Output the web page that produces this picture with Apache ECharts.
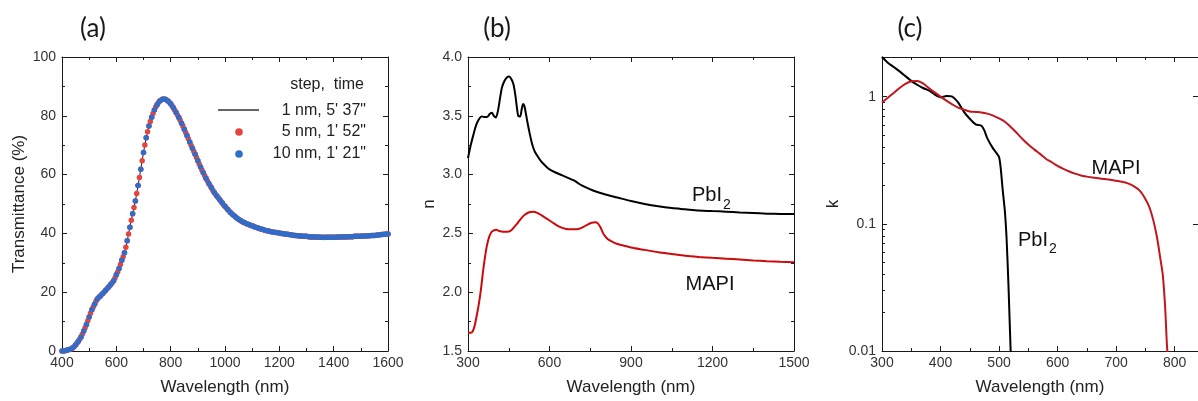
<!DOCTYPE html>
<html><head><meta charset="utf-8">
<script src="https://cdn.jsdelivr.net/npm/echarts@6/dist/echarts.min.js"></script>
<style>html,body{margin:0;padding:0;background:#fff}#c{width:1198px;height:401px}</style>
</head><body><div id="c"></div>
<script>
// ---------- Panel (a): Transmittance (%) vs wavelength, 400-1600 nm ----------
const aStart = 400;
// 10 nm step measurement (400, 410, ..., 1600)
const aT10nm = [
 0.0,0.1,0.3,0.6,1.1,2.0,3.3,4.8,6.8,9.0,
 11.6,14.0,15.9,17.7,18.6,19.6,20.6,21.6,22.7,23.9,
 25.9,28.1,30.9,33.4,37.5,42.1,46.7,51.0,56.3,61.8,
 67.5,72.5,76.5,79.5,82.0,83.8,85.0,85.6,85.6,85.0,
 84.1,82.7,81.1,79.4,77.5,75.4,73.3,71.1,69.0,66.9,
 64.7,62.6,60.6,58.8,57.1,55.5,54.0,52.7,51.5,50.3,
 49.2,48.1,47.1,46.3,45.5,44.8,44.2,43.7,43.3,42.9,
 42.6,42.2,41.9,41.6,41.3,41.0,40.8,40.6,40.4,40.3,
 40.1,40.0,39.8,39.7,39.5,39.4,39.3,39.2,39.1,39.0,
 39.0,38.9,38.8,38.8,38.8,38.7,38.7,38.7,38.7,38.7,
 38.7,38.7,38.8,38.8,38.8,38.9,38.9,38.9,39.0,39.0,
 39.0,39.1,39.1,39.2,39.3,39.3,39.4,39.5,39.6,39.7,
 39.8
];
// 5 nm step measurement (400, 405, ..., 1600)
const aT5nm = [
 0.0,0.0,0.1,0.2,0.3,0.4,0.6,0.8,1.1,1.5,
 2.0,2.6,3.3,4.0,4.8,5.8,6.8,7.9,9.0,10.3,
 11.6,12.8,14.0,15.0,15.9,16.9,17.7,18.2,18.6,19.1,
 19.6,20.1,20.6,21.1,21.6,22.1,22.7,23.3,23.9,24.8,
 25.9,26.9,28.1,29.4,30.9,32.1,33.4,35.3,37.5,39.8,
 42.1,44.5,46.7,48.8,51.0,53.6,56.3,59.0,61.8,64.7,
 67.5,70.1,72.5,74.6,76.5,78.1,79.5,80.8,82.0,83.0,
 83.8,84.5,85.0,85.4,85.6,85.7,85.6,85.4,85.0,84.6,
 84.1,83.4,82.7,81.9,81.1,80.3,79.4,78.5,77.5,76.5,
 75.4,74.4,73.3,72.2,71.1,70.0,69.0,67.9,66.9,65.8,
 64.7,63.6,62.6,61.6,60.6,59.7,58.8,57.9,57.1,56.3,
 55.5,54.7,54.0,53.3,52.7,52.1,51.5,50.9,50.3,49.7,
 49.2,48.6,48.1,47.6,47.1,46.7,46.3,45.9,45.5,45.1,
 44.8,44.5,44.2,43.9,43.7,43.5,43.3,43.1,42.9,42.7,
 42.6,42.4,42.2,42.0,41.9,41.7,41.6,41.4,41.3,41.1,
 41.0,40.9,40.8,40.7,40.6,40.5,40.4,40.3,40.3,40.2,
 40.1,40.0,40.0,39.9,39.8,39.7,39.7,39.6,39.5,39.5,
 39.4,39.3,39.3,39.2,39.2,39.1,39.1,39.0,39.0,39.0,
 39.0,38.9,38.9,38.8,38.8,38.8,38.8,38.7,38.8,38.7,
 38.7,38.7,38.7,38.6,38.7,38.7,38.7,38.7,38.7,38.7,
 38.7,38.7,38.7,38.8,38.8,38.8,38.8,38.8,38.8,38.9,
 38.8,38.9,38.9,38.9,38.9,39.0,39.0,39.0,39.0,39.0,
 39.0,39.1,39.1,39.1,39.1,39.2,39.2,39.2,39.3,39.3,
 39.3,39.4,39.4,39.5,39.5,39.6,39.6,39.7,39.7,39.8,
 39.8
];
const aLegendHeader = 'step,  time';
const aLegendLabels = ['1 nm, 5\' 37"', '5 nm, 1\' 52"', '10 nm, 1\' 21"'];

// ---------- Panel (b): refractive index n ----------
const bWlPbI2 = [300,310,320,330,340,350,360,370,380,388,395,402,410,418,425,435,445,452,460,467,474,480,485,492,498,503,508,513,520,528,536,545,555,570,585,600,620,645,670,690,710,730,760,800,850,900,950,1000,1050,1100,1150,1200,1250,1300,1350,1400,1450,1500];
const bNPbI2  = [3.14,3.25,3.34,3.42,3.47,3.495,3.49,3.49,3.515,3.525,3.50,3.485,3.54,3.65,3.74,3.80,3.83,3.835,3.81,3.77,3.68,3.57,3.50,3.495,3.56,3.60,3.58,3.52,3.43,3.34,3.26,3.20,3.16,3.11,3.075,3.045,3.02,2.995,2.97,2.95,2.92,2.895,2.865,2.835,2.805,2.775,2.75,2.73,2.715,2.705,2.695,2.69,2.685,2.678,2.673,2.668,2.665,2.664];
const bWlMAPI = [300,310,318,325,332,340,348,355,362,370,378,386,395,405,415,430,445,455,465,480,495,510,525,540,555,570,590,610,630,650,670,690,710,725,740,755,768,778,788,800,815,830,850,875,900,950,1000,1050,1100,1150,1200,1250,1300,1350,1400,1450,1500];
const bNMAPI  = [1.655,1.655,1.67,1.72,1.80,1.90,2.03,2.17,2.29,2.40,2.47,2.51,2.525,2.53,2.52,2.515,2.515,2.52,2.54,2.58,2.625,2.66,2.68,2.685,2.675,2.655,2.625,2.595,2.565,2.545,2.535,2.535,2.54,2.555,2.575,2.59,2.595,2.585,2.55,2.49,2.45,2.43,2.41,2.395,2.38,2.36,2.34,2.325,2.31,2.30,2.292,2.285,2.278,2.27,2.264,2.259,2.255];

// ---------- Panel (c): extinction coefficient k (log) ----------
const cWlPbI2 = [300,310,320,330,340,350,360,370,380,390,400,410,420,430,440,450,460,470,475,480,490,500,503,506,510,513,516,518,520];
const cKPbI2  = [2.05,1.85,1.71,1.58,1.45,1.33,1.24,1.17,1.12,1.04,0.99,1.01,1.00,0.90,0.76,0.67,0.605,0.59,0.54,0.47,0.39,0.335,0.27,0.19,0.125,0.075,0.034,0.018,0.0095];
const cWlMAPI = [300,310,320,330,340,350,360,370,380,390,400,410,420,430,440,450,460,470,480,490,500,510,520,530,540,550,560,570,580,590,600,610,620,630,640,650,660,670,680,690,700,710,720,730,740,750,757,764,770,776,780,784,787,790];
const cKMAPI  = [0.90,0.98,1.07,1.17,1.26,1.32,1.33,1.27,1.17,1.08,1.00,0.93,0.87,0.82,0.79,0.765,0.758,0.752,0.735,0.71,0.675,0.635,0.578,0.52,0.465,0.42,0.385,0.355,0.325,0.305,0.285,0.27,0.258,0.248,0.24,0.235,0.231,0.228,0.225,0.222,0.218,0.214,0.208,0.198,0.183,0.157,0.135,0.105,0.078,0.052,0.039,0.0215,0.011,0.0075];

const panelTitles = ['(a)', '(b)', '(c)'];
const xName = 'Wavelength (nm)';
const yNames = ['Transmittance (%)', 'n', 'k'];
const curveLabels = ['PbI', 'MAPI'];

// ---------- helpers ----------
const FONT = '"Liberation Sans", Arial, sans-serif';
const AX = '#1a1a1a';
const stepPairs = (start, step, ys) => ys.map((y, i) => [start + i * step, y]);
const pairs = (xs, ys) => xs.map((x, i) => [x, ys[i]]);
const plain = v => String(v);

function axisBase(gridIndex, min, max, interval, type) {
  return {
    type: type || 'value', gridIndex, min, max,
    interval: type === 'log' ? undefined : interval,
    axisLine: { show: true, onZero: false, lineStyle: { color: AX, width: 1 } },
    axisTick: { show: true, inside: true, length: 5, lineStyle: { color: AX, width: 1 } },
    minorTick: { show: true, splitNumber: 2, length: 3, lineStyle: { color: AX, width: 1 } },
    splitLine: { show: false }, minorSplitLine: { show: false }
  };
}
function xBottom(g, min, max, interval, extra) {
  return Object.assign(axisBase(g, min, max, interval), {
    position: 'bottom', name: xName, nameLocation: 'middle', nameGap: 28,
    nameTextStyle: { fontFamily: FONT, fontSize: 17, color: '#222' },
    axisLabel: { fontFamily: FONT, fontSize: 14, color: '#333', margin: 5, showMaxLabel: !extra, formatter: plain }
  });
}
function xTop(g, min, max, interval) {
  return Object.assign(axisBase(g, min, max, interval), { position: 'top', axisLabel: { show: false } });
}
function yLeft(g, min, max, interval, name, gap, type, fmt) {
  const a = Object.assign(axisBase(g, min, max, interval, type), {
    position: 'left', name, nameLocation: 'middle', nameGap: gap,
    nameTextStyle: { fontFamily: FONT, fontSize: 17, color: '#222' },
    axisLabel: { fontFamily: FONT, fontSize: 14, color: '#333', margin: 6, showMaxLabel: type !== 'log', formatter: fmt || plain }
  });
  if (type === 'log') { a.logBase = 10; a.minorTick.splitNumber = 9; }
  return a;
}
function yRight(g, min, max, interval, type) {
  const a = Object.assign(axisBase(g, min, max, interval, type), { position: 'right', axisLabel: { show: false } });
  if (type === 'log') { a.logBase = 10; a.minorTick.show = false; }
  return a;
}

const chart = echarts.init(document.getElementById('c'), null, { renderer: 'canvas' });
const RED_A = '#e5443d', BLUE_A = '#2f6dcb', RED_B = '#cc0a0a', RED_C = '#c2161e';
const TITLE_FONT = 'Lato, "Open Sans", sans-serif';

function gtext(x, y, text, size, align, family, fill) {
  return {
    type: 'text', x, y, silent: true,
    style: { text, fontFamily: family || FONT, fontSize: size, fill: fill || '#111', align: align || 'center', verticalAlign: 'middle' }
  };
}

chart.setOption({
  animation: false,
  backgroundColor: '#fff',
  grid: [
    { left: 62, top: 57, width: 326, height: 297 },
    { left: 468, top: 57, width: 326, height: 297 },
    { left: 882, top: 57, width: 319, height: 297 }
  ],
  xAxis: [
    xBottom(0, 400, 1600, 200), xTop(0, 400, 1600, 200),
    xBottom(1, 300, 1500, 300), xTop(1, 300, 1500, 300),
    xBottom(2, 300, 840, 100, true), xTop(2, 300, 840, 100)
  ],
  yAxis: [
    yLeft(0, 0, 100, 20, yNames[0], 34), yRight(0, 0, 100, 20),
    yLeft(1, 1.5, 4.0, 0.5, yNames[1], 30, 'value', v => v.toFixed(1)), yRight(1, 1.5, 4.0, 0.5),
    yLeft(2, 0.01, 2.05, null, yNames[2], 40, 'log'), yRight(2, 0.01, 2.05, null, 'log')
  ],
  series: [
    { name: aLegendLabels[0], type: 'line', xAxisIndex: 0, yAxisIndex: 0, data: stepPairs(aStart, 5, aT5nm),
      showSymbol: false, lineStyle: { color: '#222', width: 1 }, z: 1 },
    { name: aLegendLabels[1], type: 'scatter', xAxisIndex: 0, yAxisIndex: 0, data: stepPairs(aStart, 5, aT5nm),
      symbolSize: 5.5, itemStyle: { color: RED_A, opacity: 1 }, z: 2 },
    { name: aLegendLabels[2], type: 'scatter', xAxisIndex: 0, yAxisIndex: 0, data: stepPairs(aStart, 10, aT10nm),
      symbolSize: 5.5, itemStyle: { color: BLUE_A, opacity: 1 }, z: 3 },
    { name: 'PbI2 n', type: 'line', xAxisIndex: 2, yAxisIndex: 2, data: pairs(bWlPbI2, bNPbI2),
      showSymbol: false, smooth: 0.3, lineStyle: { color: '#000', width: 2 } },
    { name: 'MAPI n', type: 'line', xAxisIndex: 2, yAxisIndex: 2, data: pairs(bWlMAPI, bNMAPI),
      showSymbol: false, smooth: 0.3, lineStyle: { color: RED_B, width: 2 } },
    { name: 'PbI2 k', type: 'line', xAxisIndex: 4, yAxisIndex: 4, data: pairs(cWlPbI2, cKPbI2),
      showSymbol: false, smooth: 0.2, lineStyle: { color: '#000', width: 2 } },
    { name: 'MAPI k', type: 'line', xAxisIndex: 4, yAxisIndex: 4, data: pairs(cWlMAPI, cKMAPI),
      showSymbol: false, smooth: 0.3, lineStyle: { color: RED_C, width: 2 } }
  ],
  graphic: [
    // panel titles
    gtext(93, 29, panelTitles[0], 26, 'center', TITLE_FONT, '#1a1a1a'),
    gtext(497, 29, panelTitles[1], 26, 'center', TITLE_FONT, '#1a1a1a'),
    gtext(910, 29, panelTitles[2], 26, 'center', TITLE_FONT, '#1a1a1a'),
    // legend of panel (a)
    gtext(364, 85, aLegendHeader, 16, 'right', FONT, '#222'),
    { type: 'line', silent: true, shape: { x1: 218, y1: 110, x2: 259, y2: 110 }, style: { stroke: '#333', lineWidth: 1.5 } },
    gtext(366, 111, aLegendLabels[0], 16, 'right', FONT, '#222'),
    { type: 'circle', silent: true, shape: { cx: 239, cy: 132, r: 3.8 }, style: { fill: RED_A } },
    gtext(366, 132, aLegendLabels[1], 16, 'right', FONT, '#222'),
    { type: 'circle', silent: true, shape: { cx: 239, cy: 154, r: 3.8 }, style: { fill: BLUE_A } },
    gtext(366, 154, aLegendLabels[2], 16, 'right', FONT, '#222'),
    // curve labels panel (b)
    gtext(722, 195, curveLabels[0], 20, 'right'),
    gtext(723, 205, '2', 14, 'left'),
    gtext(710, 284, curveLabels[1], 20),
    // curve labels panel (c)
    gtext(1048, 240, curveLabels[0], 20, 'right'),
    gtext(1049, 249, '2', 14, 'left'),
    gtext(1116, 168, curveLabels[1], 20)
  ]
});
</script>
</body></html>
